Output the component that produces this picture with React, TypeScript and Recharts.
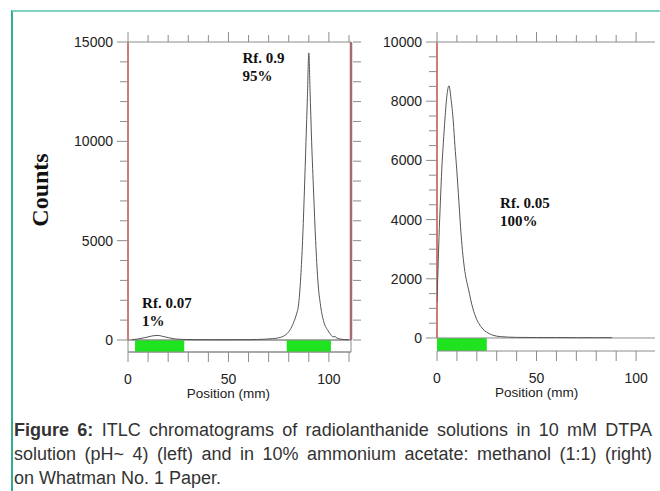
import {
  LineChart,
  Line,
  XAxis,
  YAxis,
  ReferenceLine,
  ReferenceArea,
  ReferenceDot,
} from "recharts";

const sans = "'Liberation Sans', Arial, sans-serif";
const serif = "'Liberation Serif', 'Times New Roman', serif";
const axisColor = "#8c8c8c";
const labelColor = "#222";
const redLine = "#c0504d";
const green = "#1fe31f";

// left: 10 mM DTPA
const leftMm = [2, 5, 8, 11, 13, 15, 17, 20, 23, 27, 32, 40, 50, 60, 68, 72, 75, 78, 80.6, 82.5, 84, 84.8, 86, 86.9, 87.8, 88.6, 89.3, 90, 90.6, 91.4, 92.4, 93.4, 94.5, 95.9, 97.5, 99.5, 101, 102, 103, 104, 106, 108, 110];
const leftCounts = [20, 50, 110, 180, 220, 230, 190, 120, 60, 30, 20, 15, 15, 20, 40, 70, 110, 230, 500, 900, 1350, 1700, 3200, 5000, 7500, 10000, 12200, 14450, 12600, 10000, 7400, 5000, 3000, 1700, 900, 480, 260, 160, 170, 100, 40, 20, 10];

// right: ammonium acetate / methanol
const rightMm = [0, 0.5, 1, 1.7, 2.4, 3.2, 4, 5, 6, 7, 8.2, 9, 9.9, 11, 12.1, 13, 14, 15.8, 18, 20, 22, 24, 25.7, 28, 32, 40, 50, 60, 70, 80, 88];
const rightCounts = [1200, 2300, 3400, 4600, 5700, 6600, 7400, 8200, 8520, 8100, 7300, 6500, 5700, 4600, 3500, 2800, 2250, 1650, 1000, 620, 390, 240, 165, 95, 45, 20, 15, 15, 10, 10, 10];

const leftMmTicks = [0, 10, 20, 30, 40, 50, 60, 70, 80, 90, 100, 110];
const rightMmTicks = [0, 10, 20, 30, 40, 50, 60, 70, 80, 90, 100];
const leftCountTicks = [0, 1000, 2000, 3000, 4000, 5000, 6000, 7000, 8000, 9000, 10000, 11000, 12000, 13000, 14000, 15000];
const rightCountTicks = [0, 500, 1000, 1500, 2000, 2500, 3000, 3500, 4000, 4500, 5000, 5500, 6000, 6500, 7000, 7500, 8000, 8500, 9000, 9500, 10000];

const leftBands = [
  [3.5, 28],
  [79, 101],
];
const rightBands = [[0, 25]];

const leftNotes = [
  { mm: 57, counts: 13950, lines: ["Rf. 0.9", "95%"] },
  { mm: 7, counts: 1610, lines: ["Rf. 0.07", "1%"] },
];
const rightNotes = [{ mm: 31.7, counts: 4390, lines: ["Rf. 0.05", "100%"] }];

type Note = { mm: number; counts: number; lines: string[] };

function Chromatogram({
  mm,
  counts,
  xMax,
  yMin,
  yMax,
  xTicks,
  yTicks,
  labelStep,
  bands,
  notes,
  width,
  height,
  margin,
  rightAxis,
}: {
  mm: number[];
  counts: number[];
  xMax: number;
  yMin: number;
  yMax: number;
  xTicks: number[];
  yTicks: number[];
  labelStep: number;
  bands: number[][];
  notes: Note[];
  width: number;
  height: number;
  margin: { top: number; right: number; bottom: number; left: number };
  rightAxis: boolean;
}) {
  const data = mm.map((m, i) => ({ mm: m, counts: counts[i] }));

  const topTick = (p: any) => {
    const len = p.payload.value % 50 === 0 ? 10 : 7;
    return <line x1={p.x} x2={p.x} y1={p.y} y2={p.y - len} stroke={axisColor} />;
  };

  const bottomTick = (p: any) => {
    const v = p.payload.value;
    return (
      <g>
        <line x1={p.x} x2={p.x} y1={p.y} y2={p.y + 10} stroke={axisColor} />
        {v % 50 === 0 && (
          <text x={p.x} y={p.y + 32} textAnchor="middle" fontSize={14} fontFamily={sans} fill={labelColor}>
            {v}
          </text>
        )}
        {v === 50 && (
          <text x={p.x} y={p.y + 46} textAnchor="middle" fontSize={13.5} fontFamily={sans} fill={labelColor}>
            Position (mm)
          </text>
        )}
      </g>
    );
  };

  const leftTick = (p: any) => {
    const v = p.payload.value;
    const major = v % labelStep === 0;
    return (
      <g>
        <line x1={p.x - (major ? 11 : 8)} x2={p.x} y1={p.y} y2={p.y} stroke={axisColor} />
        {major && (
          <text x={p.x - 15} y={p.y + 5} textAnchor="end" fontSize={14} fontFamily={sans} fill={labelColor}>
            {v}
          </text>
        )}
      </g>
    );
  };

  const rightTick = (p: any) => (
    <line x1={p.x + 2} x2={p.x + 10} y1={p.y} y2={p.y} stroke={axisColor} />
  );

  return (
    <LineChart width={width} height={height} data={data} margin={margin}>
      <XAxis
        type="number"
        dataKey="mm"
        domain={[0, xMax]}
        ticks={xTicks}
        interval={0}
        tickSize={0}
        tickMargin={0}
        tick={bottomTick}
        tickLine={false}
        axisLine={{ stroke: axisColor }}
        height={30}
        allowDataOverflow
      />
      <XAxis
        xAxisId="top"
        orientation="top"
        type="number"
        dataKey="mm"
        domain={[0, xMax]}
        ticks={xTicks}
        interval={0}
        tickSize={0}
        tickMargin={0}
        tick={topTick}
        tickLine={false}
        axisLine={{ stroke: axisColor }}
        height={20}
        allowDataOverflow
      />
      <YAxis
        type="number"
        domain={[yMin, yMax]}
        ticks={yTicks}
        interval={0}
        tickSize={0}
        tickMargin={0}
        tick={leftTick}
        tickLine={false}
        axisLine={false}
        width={60}
        allowDataOverflow
      />
      {rightAxis && (
        <YAxis
          yAxisId="r"
          orientation="right"
          type="number"
          domain={[yMin, yMax]}
          ticks={yTicks}
          interval={0}
          tickSize={0}
          tickMargin={0}
          tick={rightTick}
          tickLine={false}
          axisLine={false}
          width={10}
          allowDataOverflow
        />
      )}
      <ReferenceArea
        x1={0}
        x2={xMax}
        y1={yMin}
        y2={0}
        fill="#fff"
        fillOpacity={1}
        stroke={rightAxis ? axisColor : "none"}
      />
      {bands.map((b, i) => (
        <ReferenceArea key={i} x1={b[0]} x2={b[1]} y1={yMin} y2={0} fill={green} fillOpacity={1} stroke="none" />
      ))}
      <ReferenceLine y={0} stroke={axisColor} />
      <ReferenceLine
        segment={[
          { x: 0, y: 0 },
          { x: 0, y: yMax },
        ]}
        stroke={redLine}
        strokeWidth={1.5}
      />
      {rightAxis && (
        <ReferenceLine
          segment={[
            { x: xMax, y: 0 },
            { x: xMax, y: yMax },
          ]}
          stroke="#a86a72"
          strokeWidth={2.5}
        />
      )}
      <Line
        type="monotone"
        dataKey="counts"
        stroke="#555"
        strokeWidth={1}
        dot={false}
        isAnimationActive={false}
      />
      {notes.map((n, i) => (
        <ReferenceDot
          key={"n" + i}
          x={n.mm}
          y={n.counts}
          r={0}
          fill="none"
          stroke="none"
          label={(p: any) => (
            <g>
              <text x={p.viewBox.x} y={p.viewBox.y} fontFamily={serif} fontWeight="bold" fontSize={15} fill="#111">
                {n.lines[0]}
              </text>
              <text x={p.viewBox.x} y={p.viewBox.y + 18} fontFamily={serif} fontWeight="bold" fontSize={15} fill="#111">
                {n.lines[1]}
              </text>
            </g>
          )}
        />
      ))}
    </LineChart>
  );
}

const justified = { textAlign: "justify" as const, textAlignLast: "justify" as const };

export default function App() {
  return (
    <div
      style={{
        position: "absolute",
        left: 0,
        top: 0,
        width: 660,
        height: 491,
        background: "#fff",
        overflow: "hidden",
      }}
    >
      <div
        style={{
          position: "absolute",
          left: 11,
          top: 10,
          width: 660,
          height: 490,
          borderTop: "2px solid #7fd3c3",
          borderLeft: "2px solid #2fae94",
        }}
      />
      <div style={{ position: "absolute", left: 0, top: 0 }}>
        <Chromatogram
          mm={leftMm}
          counts={leftCounts}
          xMax={111}
          yMin={-604}
          yMax={15000}
          xTicks={leftMmTicks}
          yTicks={leftCountTicks}
          labelStep={5000}
          bands={leftBands}
          notes={leftNotes}
          width={380}
          height={420}
          margin={{ top: 22, right: 19, bottom: 38, left: 68 }}
          rightAxis
        />
      </div>
      <div style={{ position: "absolute", left: 360, top: 0 }}>
        <Chromatogram
          mm={rightMm}
          counts={rightCounts}
          xMax={109.5}
          yMin={-440}
          yMax={10000}
          xTicks={rightMmTicks}
          yTicks={rightCountTicks}
          labelStep={2000}
          bands={rightBands}
          notes={rightNotes}
          width={300}
          height={420}
          margin={{ top: 22, right: 5, bottom: 39, left: 17 }}
          rightAxis={false}
        />
      </div>
      <svg style={{ position: "absolute", left: 0, top: 0 }} width={80} height={400}>
        <text
          x={40}
          y={190}
          transform="rotate(-90 40 190)"
          textAnchor="middle"
          dominantBaseline="central"
          fontFamily={serif}
          fontWeight="bold"
          fontSize={24}
          fill="#111"
        >
          Counts
        </text>
      </svg>
      <div
        style={{
          position: "absolute",
          left: 14,
          top: 418,
          width: 638,
          fontFamily: sans,
          fontSize: 18,
          lineHeight: "24px",
          color: "#333",
        }}
      >
        <div style={justified}>
          <b>Figure 6:</b> ITLC chromatograms of radiolanthanide solutions in 10 mM DTPA
        </div>
        <div style={justified}>
          solution (pH~ 4) (left) and in 10% ammonium acetate: methanol (1:1) (right)
        </div>
        <div>on Whatman No. 1 Paper.</div>
      </div>
    </div>
  );
}
